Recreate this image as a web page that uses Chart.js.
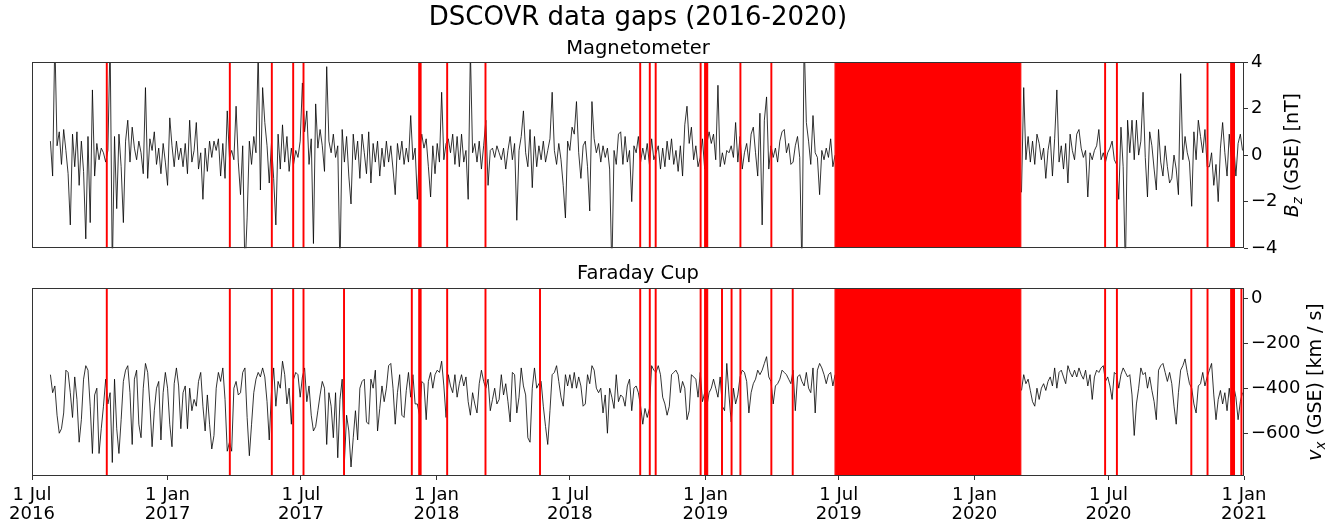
<!DOCTYPE html>
<html><head><meta charset="utf-8">
<script src="https://cdn.jsdelivr.net/npm/chart.js@4.4.1/dist/chart.umd.min.js"></script>
<style>
html,body{margin:0;padding:0;background:#fff;}
#wrap{position:relative;width:1336px;height:523px;overflow:hidden;background:#fff;}
#cA{position:absolute;left:0;top:0;}
#cB{position:absolute;left:0;top:262px;}
</style></head><body>
<div id="wrap"><canvas id="cA" width="1336" height="262"></canvas><canvas id="cB" width="1336" height="261"></canvas></div>
<script>
// ---------------- data ----------------
const seg1Start = '2016-07-26';
const seg2Start = '2020-03-05';
const sampleStepDays = 3;

const bzSeg1 = [
 0.6,-0.9,5,0.4,1.0,-0.4,1.1,0.2,-0.8,-3.0,
 0.9,-0.5,1.0,-1.3,0.6,-0.7,-3.6,0.8,-2.9,2.8,
 -0.9,0.5,-0.2,0.3,0.1,-0.3,0.2,5,-5,0.8,
 -2.3,0.9,-0.5,-2.9,0.6,1.5,-0.3,1.2,0.3,-0.2,
 0.6,0.1,-0.8,2.9,-1.0,0.7,0.2,1.0,-0.4,0.3,
 -0.8,0.5,-0.3,-1.3,1.6,0.4,-0.5,0.6,-0.2,0.3,
 -0.5,0.5,-0.8,1.5,-0.3,0.2,1.4,-0.6,0.1,-1.9,
 0.3,-0.7,0.6,-0.1,0.6,0.2,0.7,-0.9,0.5,-1.0,
 1.9,-0.1,0.2,-0.2,2.1,-0.3,-1.7,0.4,-5,-2.7,
 0.6,-0.4,0.8,0.1,4.5,-1.5,2.9,1.4,0.4,-1.2,
 0.5,-1.0,-3.0,0.9,-0.6,1.3,-0.3,0.8,-0.7,0.3,
 -0.4,0.2,-0.1,0.6,3.1,1.0,1.9,-0.4,0.7,-3.8,
 2.2,0.3,1.1,0.4,-0.7,3.8,0.6,0.1,0.9,-0.1,
 0.4,-5,1.1,-0.3,0.8,-0.9,-2.1,0.9,-0.2,0.6,
 -1.0,0.9,0.1,-0.8,1.0,-1.2,0.5,-0.3,0.6,-0.9,
 0.3,-0.5,0.6,-0.3,0.4,-0.6,-1.7,0.5,-0.2,0.6,
 -0.4,0.3,-0.3,1.7,-0.2,0.3,-1.9,0.2,0.9,0.3,
 0.7,-0.5,-1.8,0.4,-0.8,0.5,-0.3,2.7,-0.2,0.5,
 0.7,0.1,0.9,-0.4,0.8,-0.5,0.9,-0.3,0.2,-1.9,
 4.5,0.1,0.5,-0.3,0.6,-0.6,0.4,1.5,-1.3,0.2,
 0.3,-0.1,0.4,0.1,-0.2,0.3,-0.6,0.2,0.8,-0.2,
 0.5,-2.8,0.2,0.8,1.9,0.1,-0.5,1.1,-1.4,0.8,
 -0.5,0.4,-0.2,0.6,-0.3,0.2,0.7,2.7,0.2,-0.4,
 0.5,-0.2,-1.3,-2.7,0.6,0.2,1.2,0.9,2.3,0.1,
 -1.0,0.4,0.6,-0.5,-2.4,2.3,0.7,0.1,0.5,-0.3,
 0.4,-0.1,0.3,-0.6,-5,0.2,-0.4,0.9,1.0,-0.4,
 0.8,-0.3,0.2,-2.0,0.4,0.1,0.8,-0.3,0.3,-0.2,
 0.5,-0.4,0.7,-0.2,0.1,0.4,-0.6,0.3,-0.5,0.6,
 -0.2,0.7,-0.4,0.2,-0.7,0.4,-0.9,1.3,2.1,0.5,
 1.2,-0.2,0.4,-0.5,-0.1,0.7,-0.6,0.5,1.0,0.5,
 0.9,-0.2,3.0,-0.5,0.1,-0.4,0.2,0.1,0.4,-0.1,
 1.4,-0.3,0.8,-0.6,0.1,0.5,-0.3,0.9,1.2,0.1,
 -0.9,1.8,-3.0,1.5,2.5,-0.6,0.4,-0.1,0.3,-0.3,
 0.6,1.0,1.1,0.1,0.5,-0.4,-0.3,0.4,0.8,-0.1,
 -5,5,1.4,0.6,-0.4,1.7,0.1,-0.1,-1.7,0.2,
 -0.2,0.3,-0.1,0.7,-0.5,0.0
];
const bzSeg2 = [
 -1.6,2.9,-0.2,0.8,-0.3,0.6,-0.4,0.9,0.5,-0.2,
 0.3,-1.0,0.2,0.8,-0.9,0.7,2.8,-0.3,0.4,-0.6,
 0.5,-1.2,0.9,0.2,-0.2,0.9,1.1,0.3,-0.1,0.2,
 -1.8,0.1,-0.2,0.2,0.4,1.1,-0.2,0.1,-0.3,0.1,
 0.3,0.6,-0.2,-0.4,-1.9,1.2,-0.5,-5,1.5,0.1,
 1.5,-0.2,1.5,0.0,0.6,2.7,-0.1,-1.8,1.0,0.4,
 -0.6,-1.5,1.1,-0.3,-0.9,0.4,-0.5,-1.2,-1.0,0.0,
 -0.6,-1.7,3.5,-0.2,0.8,0.1,-0.3,-2.2,1.0,-0.2,
 1.5,0.8,0.1,1.1,-0.5,-0.5,0.1,-1.3,-0.4,-2.0,
 0.3,1.4,0.1,-0.9,0.9,-0.2,0.5,-0.9,0.5,0.9,
 0.2
];
const vxSeg1 = [
 -340,-420,-390,-520,-600,-580,-510,-320,-330,-420,
 -530,-350,-450,-640,-540,-360,-300,-320,-480,-690,
 -430,-400,-690,-580,-480,-360,-470,-420,-730,-360,
 -580,-690,-540,-370,-320,-300,-420,-650,-360,-320,
 -560,-620,-400,-290,-330,-470,-660,-500,-400,-370,
 -630,-420,-330,-400,-560,-660,-380,-310,-390,-580,
 -420,-390,-580,-400,-500,-450,-480,-370,-330,-480,
 -590,-430,-560,-670,-610,-400,-330,-370,-310,-450,
 -680,-640,-680,-400,-370,-430,-420,-330,-310,-530,
 -700,-560,-420,-360,-330,-350,-310,-350,-460,-630,
 -420,-310,-480,-370,-400,-280,-340,-470,-400,-560,
 -360,-330,-340,-440,-350,-310,-460,-390,-520,-590,
 -570,-500,-430,-370,-400,-650,-420,-480,-620,-420,
 -709,-450,-360,-730,-520,-590,-750,-620,-500,-630,
 -400,-370,-360,-550,-560,-360,-400,-320,-590,-490,
 -390,-460,-400,-300,-290,-400,-560,-420,-340,-520,
 -530,-410,-330,-440,-340,-470,-470,-520,-370,-380,
 -540,-370,-330,-400,-340,-320,-330,-280,-390,-530,
 -340,-390,-420,-340,-440,-380,-340,-390,-350,-460,
 -520,-420,-470,-510,-380,-320,-370,-400,-360,-500,
 -450,-400,-470,-450,-340,-430,-380,-460,-550,-330,
 -340,-510,-440,-310,-390,-430,-620,-640,-400,-310,
 -400,-380,-370,-480,-570,-650,-500,-340,-330,-300,
 -370,-440,-480,-340,-390,-340,-400,-330,-400,-350,
 -390,-480,-470,-340,-380,-300,-320,-400,-420,-400,
 -510,-430,-600,-400,-440,-490,-340,-460,-430,-440,
 -480,-390,-360,-500,-400,-390,-420,-480,-560,-490,
 -530,-490,-300,-320,-330,-300,-340,-440,-470,-520,
 -480,-340,-330,-320,-340,-420,-370,-400,-540,-500,
 -340,-350,-360,-440,-330,-460,-420,-480,-420,-400,
 -360,-400,-440,-350,-480,-500,-290,-430,-550,-400,
 -470,-430,-350,-320,-330,-370,-510,-420,-380,-360,
 -320,-340,-320,-290,-260,-350,-370,-470,-390,-380,
 -360,-320,-330,-340,-360,-380,-320,-500,-350,-340,
 -370,-390,-330,-400,-420,-310,-510,-320,-290,-310,
 -340,-380,-340,-330,-390,-340
];
const vxSeg2 = [
 -410,-340,-380,-360,-410,-460,-480,-400,-450,-400,
 -380,-410,-370,-350,-390,-310,-400,-330,-320,-350,
 -380,-300,-330,-350,-320,-350,-310,-340,-360,-320,
 -390,-340,-450,-350,-320,-330,-310,-300,-370,-350,
 -390,-450,-330,-340,-400,-340,-310,-330,-350,-340,
 -430,-610,-470,-400,-310,-340,-330,-400,-350,-410,
 -460,-540,-320,-300,-290,-330,-370,-330,-380,-480,
 -560,-420,-320,-300,-270,-330,-380,-400,-470,-510,
 -390,-380,-330,-390,-350,-320,-290,-430,-540,-450,
 -410,-470,-420,-500,-400,-480,-390,-440,-540,-460,
 -420
];

const magGaps = [
 ['2016-10-10','2016-10-11'],['2017-03-26','2017-03-27'],['2017-05-22','2017-05-23'],
 ['2017-06-20','2017-06-21'],['2017-07-04','2017-07-05'],['2017-12-08','2017-12-11'],
 ['2018-01-15','2018-01-16'],['2018-03-08','2018-03-09'],['2018-10-04','2018-10-05'],
 ['2018-10-17','2018-10-18'],['2018-10-25','2018-10-26'],['2018-12-25','2018-12-26'],
 ['2018-12-31','2019-01-04'],['2019-02-17','2019-02-18'],['2019-03-31','2019-04-01'],
 ['2019-06-26','2020-03-04'],['2020-06-26','2020-06-27'],['2020-07-12','2020-07-13'],
 ['2020-11-12','2020-11-13'],['2020-12-14','2020-12-19']
];
const fcGaps = [
 ['2016-10-10','2016-10-11'],['2017-03-26','2017-03-27'],['2017-05-22','2017-05-23'],
 ['2017-06-20','2017-06-21'],['2017-07-04','2017-07-05'],['2017-08-28','2017-08-29'],
 ['2017-11-28','2017-11-29'],['2017-12-08','2017-12-11'],['2018-01-15','2018-01-16'],
 ['2018-03-08','2018-03-09'],['2018-05-21','2018-05-22'],['2018-10-04','2018-10-05'],
 ['2018-10-17','2018-10-18'],['2018-10-25','2018-10-26'],['2018-12-25','2018-12-26'],
 ['2018-12-31','2019-01-04'],['2019-01-23','2019-01-24'],['2019-02-05','2019-02-06'],
 ['2019-02-17','2019-02-18'],['2019-03-31','2019-04-01'],['2019-04-29','2019-04-30'],
 ['2019-06-26','2020-03-04'],['2020-06-26','2020-06-27'],['2020-07-12','2020-07-13'],
 ['2020-10-21','2020-10-22'],['2020-11-12','2020-11-13'],['2020-12-14','2020-12-19'],
 ['2020-12-28','2020-12-29']
];

const xRange = ['2016-07-01','2021-01-01'];
const xTickDates = ['2016-07-01','2017-01-01','2017-07-01','2018-01-01','2018-07-01',
                    '2019-01-01','2019-07-01','2020-01-01','2020-07-01','2021-01-01'];
const xTickLabels = [['1 Jul','2016'],['1 Jan','2017'],['1 Jul','2017'],['1 Jan','2018'],['1 Jul','2018'],
                     ['1 Jan','2019'],['1 Jul','2019'],['1 Jan','2020'],['1 Jul','2020'],['1 Jan','2021']];
const bzRange = [-4, 4];
const bzTicks = [-4, -2, 0, 2, 4];
const vxRange = [-790, 45];
const vxTicks = [-600, -400, -200, 0];

// ---------------- helpers ----------------
const FONT = "'DejaVu Sans', 'Liberation Sans', sans-serif";
Chart.defaults.font.family = FONT;
Chart.defaults.color = '#000';
const EPOCH = Date.UTC(2016, 6, 1);
function dayOf(s){ const p = s.split('-').map(Number); return (Date.UTC(p[0], p[1]-1, p[2]) - EPOCH) / 864e5; }
function series(a, b){
  const pts = [];
  const d1 = dayOf(seg1Start), d2 = dayOf(seg2Start);
  a.forEach((v,i)=>pts.push({x: d1 + i*sampleStepDays, y: v}));
  pts.push({x: (d1 + (a.length-1)*sampleStepDays + d2)/2, y: null});
  b.forEach((v,i)=>pts.push({x: d2 + i*sampleStepDays, y: v}));
  return pts;
}
function gapSets(gaps, range){
  return gaps.map(g=>{
    const s = dayOf(g[0]), e = dayOf(g[1]);
    return {data:[{x:s,y:range[0]},{x:s,y:range[1]},{x:e,y:range[1]},{x:e,y:range[0]}],
      borderColor:'#ff0000', backgroundColor:'#ff0000', borderWidth:1.2, fill:'start',
      stepped:true, pointRadius:0, tension:0, order:0};
  });
}
const fmt = v => v < 0 ? '\u2212' + Math.abs(v) : String(v);

const framePlugin = {id:'frame', afterDatasetsDraw(chart){
  const {ctx, chartArea:a} = chart;
  ctx.save(); ctx.strokeStyle = '#333'; ctx.lineWidth = 1;
  ctx.strokeRect(Math.round(a.left)+0.5, Math.round(a.top)+0.5, Math.round(a.right-a.left)-1, Math.round(a.bottom-a.top)-1);
  ctx.restore();
}};
const ylabelPlugin = {id:'ylabel', afterDraw(chart, args, o){
  const ctx = chart.ctx, a = chart.chartArea, ys = chart.scales.y;
  ctx.save();
  ctx.font = o.tickSize + 'px ' + FONT;
  let widest = 0;
  ys.ticks.forEach(t=>{ widest = Math.max(widest, ctx.measureText(fmt(t.value)).width); });
  const fs = o.size;
  const cx = a.right + 4 + 3 + widest + o.gap + fs/2;
  const cy = (a.top + a.bottom)/2;
  ctx.translate(cx, cy); ctx.rotate(-Math.PI/2);
  ctx.fillStyle = '#000'; ctx.textBaseline = 'alphabetic'; ctx.textAlign = 'left';
  const fMain = 'italic ' + fs + 'px ' + FONT, fSub = 'italic ' + (fs*0.7) + 'px ' + FONT, fRest = fs + 'px ' + FONT;
  ctx.font = fMain; const w1 = ctx.measureText(o.main).width;
  ctx.font = fSub; const w2 = ctx.measureText(o.sub).width;
  ctx.font = fRest; const w3 = ctx.measureText(o.rest).width;
  const x0 = -(w1+w2+w3)/2, base = fs*0.36;
  ctx.font = fMain; ctx.fillText(o.main, x0, base);
  ctx.font = fSub; ctx.fillText(o.sub, x0+w1, base + fs*0.2);
  ctx.font = fRest; ctx.fillText(o.rest, x0+w1+w2, base);
  ctx.restore();
}};

function yScale(range, ticks){
  return {type:'linear', position:'right', min:range[0], max:range[1],
    afterBuildTicks: s => { s.ticks = ticks.map(v=>({value:v})); },
    afterFit: s => { s.width = 92; },
    grid:{display:true, drawOnChartArea:false, drawTicks:true, tickLength:4, color:'#333', lineWidth:1},
    border:{display:false},
    ticks:{font:{size:18}, padding:3, color:'#000', callback: v => fmt(v)}};
}

// ---------------- top: magnetometer ----------------
new Chart(document.getElementById('cA'), {
  type:'line',
  data:{datasets:[...gapSets(magGaps, bzRange),
    {data: series(bzSeg1, bzSeg2), borderColor:'#000', borderWidth:0.8, pointRadius:0, fill:false, spanGaps:false, tension:0, order:1}]},
  options:{
    responsive:false, animation:false, events:[],
    layout:{padding:{left:32, right:0, top:0, bottom:12}},
    plugins:{legend:{display:false}, tooltip:{enabled:false},
      title:{display:true, text:'DSCOVR data gaps (2016-2020)', font:{size:26, weight:'normal'}, color:'#000', padding:{top:2.5, bottom:0}, fullSize:false},
      subtitle:{display:true, text:'Magnetometer', font:{size:19.5, weight:'normal'}, color:'#000', padding:{top:3.5, bottom:1.4}, fullSize:false},
      ylabel:{main:'B', sub:'z', rest:' (GSE) [nT]', size:19, tickSize:18, gap:4}},
    scales:{
      x:{type:'linear', min:dayOf(xRange[0]), max:dayOf(xRange[1]), display:false},
      y: yScale(bzRange, bzTicks)
    }
  },
  plugins:[framePlugin, ylabelPlugin]
});

// ---------------- bottom: faraday cup ----------------
new Chart(document.getElementById('cB'), {
  type:'line',
  data:{datasets:[...gapSets(fcGaps, vxRange),
    {data: series(vxSeg1, vxSeg2), borderColor:'#000', borderWidth:0.8, pointRadius:0, fill:false, spanGaps:false, tension:0, order:1}]},
  options:{
    responsive:false, animation:false, events:[],
    layout:{padding:{left:32, right:0, top:0, bottom:0}},
    plugins:{legend:{display:false}, tooltip:{enabled:false},
      title:{display:true, text:'Faraday Cup', font:{size:19.5, weight:'normal'}, color:'#000', padding:{top:0.6, bottom:2}, fullSize:false},
      ylabel:{main:'v', sub:'x', rest:' (GSE) [km / s]', size:19, tickSize:18, gap:4}},
    scales:{
      x:{type:'linear', min:dayOf(xRange[0]), max:dayOf(xRange[1]),
        afterBuildTicks: s => { s.ticks = xTickDates.map(d=>({value:dayOf(d)})); },
        afterFit: s => { s.height = 47; },
        grid:{display:true, drawOnChartArea:false, drawTicks:true, tickLength:4, color:'#333', lineWidth:1},
        border:{display:false},
        ticks:{font:{size:18, lineHeight:1.1}, padding:5, color:'#000', autoSkip:false, maxRotation:0, minRotation:0,
          callback: (v, i) => xTickLabels[i]}},
      y: yScale(vxRange, vxTicks)
    }
  },
  plugins:[framePlugin, ylabelPlugin]
});
</script></body></html>
